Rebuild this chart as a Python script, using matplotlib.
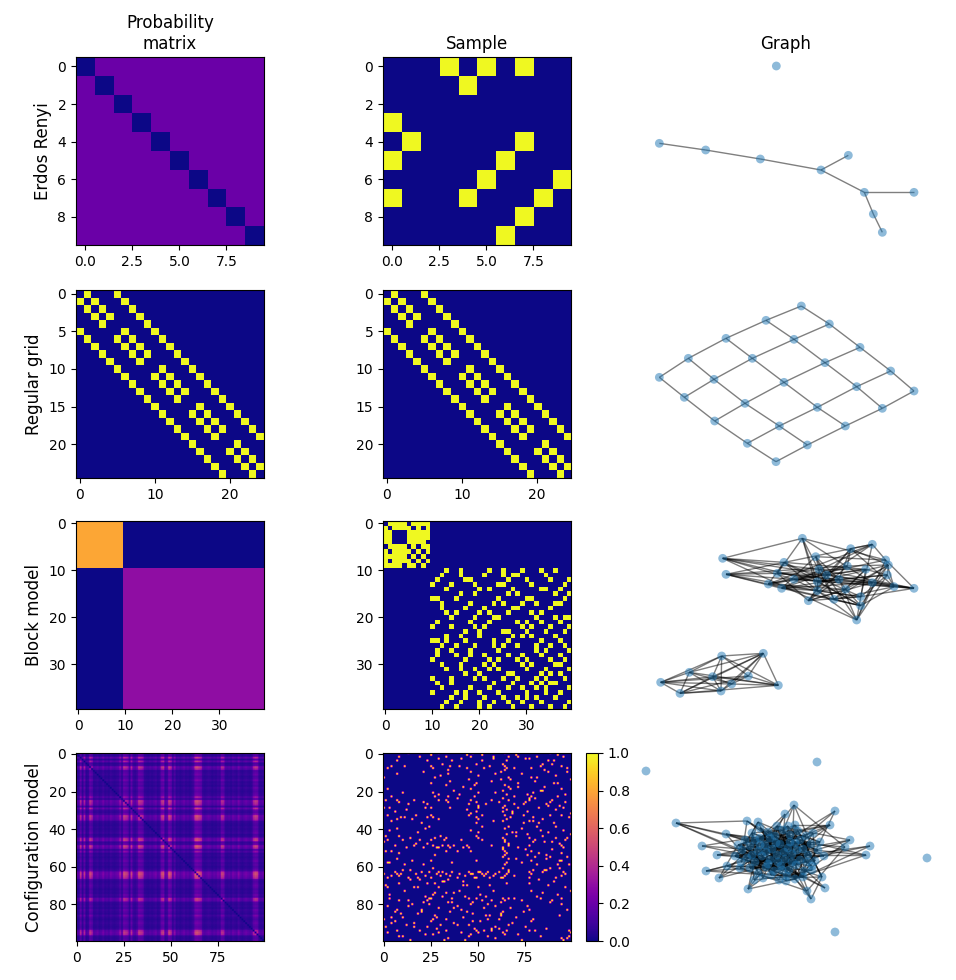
import numpy as np
import matplotlib
matplotlib.use("Agg")
import matplotlib.pyplot as plt
from matplotlib.collections import LineCollection

# ---------------- data ----------------
row_labels = ["Erdos Renyi", "Regular grid", "Block model", "Configuration model"]
col_titles = ["Probability\nmatrix", "Sample", "Graph"]

# Erdos Renyi
er_n = 10
er_p = 0.2
er_edges = [(0, 3), (0, 5), (0, 7), (1, 4), (4, 7), (5, 6), (6, 9), (7, 8)]
er_x = [573, 757, 439, 655, 730, 391, 227, 703, 852, 88]
er_y = [360, 547, 48, 316, 492, 327, 300, 427, 427, 280]

# Regular grid (5x5 lattice)
grid_n = 25
grid_edges = [(0, 1), (1, 2), (2, 3), (3, 4), (5, 6), (6, 7), (7, 8), (8, 9),
              (10, 11), (11, 12), (12, 13), (13, 14), (15, 16), (16, 17), (17, 18), (18, 19),
              (20, 21), (21, 22), (22, 23), (23, 24),
              (0, 5), (1, 6), (2, 7), (3, 8), (4, 9), (5, 10), (6, 11), (7, 12), (8, 13), (9, 14),
              (10, 15), (11, 16), (12, 17), (13, 18), (14, 19), (15, 20), (16, 21), (17, 22),
              (18, 23), (19, 24)]
grid_x = [58, 145, 258, 378, 484,
          133, 222, 337, 462, 568,
          224, 315, 432, 555, 660,
          322, 418, 532, 650, 752,
          408, 502, 616, 727, 822]
grid_y = [262, 205, 145, 91, 48,
          322, 268, 205, 148, 102,
          393, 340, 277, 218, 172,
          460, 408, 352, 290, 243,
          515, 465, 408, 355, 303]

# Block model
block_sizes = [10, 30]
block_p = [[0.8, 0.0], [0.0, 0.3]]
block_small_missing = [(0, 5), (2, 3), (2, 4), (3, 4), (1, 6), (5, 7), (6, 8), (4, 9), (7, 9), (1, 8)]
block_big_adj = {
    10: [13, 16, 22, 25, 29, 33, 36], 11: [12, 16, 21, 25, 27, 28, 34],
    12: [17, 18, 26, 30, 35, 39], 13: [14, 19, 24, 25, 31, 38],
    14: [20, 22, 27, 33, 34, 37], 15: [16, 19, 26, 28, 36, 39],
    16: [24, 30, 31, 38], 17: [18, 23, 25, 29, 32, 36, 37],
    18: [21, 27, 28, 35], 19: [20, 22, 26, 31, 33],
    20: [23, 24, 32, 36, 38, 39], 21: [22, 28, 30, 33, 37], 22: [29, 31, 35, 39],
    23: [25, 26, 30, 34, 38], 24: [27, 29, 31, 36], 25: [26, 33, 37],
    26: [28, 32, 35, 38], 27: [32, 34, 39], 28: [29, 33, 37], 29: [30, 35, 38],
    30: [31, 36, 37], 31: [34, 39], 32: [33, 35, 37], 33: [34, 38], 34: [35, 36],
    35: [39], 36: [37], 38: [39],
}
block_x = [370, 245, 148, 218, 325, 62, 275, 415, 120, 243,
           487, 697, 632, 248, 432, 527, 737, 745, 622, 537,
           677, 258, 412, 742, 462, 532, 597, 385, 425, 697,
           762, 822, 617, 532, 662, 505, 582, 662, 650, 560]
block_y = [400, 408, 457, 470, 468, 487, 492, 496, 520, 513,
           55, 73, 86, 115, 127, 110, 120, 135, 138, 148,
           148, 163, 160, 165, 178, 185, 178, 192, 205, 188,
           200, 205, 208, 212, 230, 242, 238, 257, 300, 165]

# Configuration model
cfg_n = 100
cfg_w = [0.26, 0.21, 0.62, 0.24, 0.58, 0.20, 0.25, 0.66, 0.55, 0.22,
         0.25, 0.30, 0.21, 0.24, 0.34, 0.22, 0.26, 0.20, 0.31, 0.25,
         0.22, 0.26, 0.29, 0.50, 0.25, 0.68, 0.62, 0.55, 0.24, 0.64,
         0.30, 0.25, 0.36, 0.70, 0.64, 0.58, 0.26, 0.22, 0.20, 0.25,
         0.21, 0.26, 0.31, 0.20, 0.25, 0.63, 0.70, 0.26, 0.31, 0.74,
         0.64, 0.25, 0.45, 0.22, 0.26, 0.20, 0.25, 0.31, 0.22, 0.26,
         0.20, 0.25, 0.36, 0.74, 0.78, 0.70, 0.63, 0.26, 0.22, 0.25,
         0.30, 0.26, 0.20, 0.25, 0.22, 0.31, 0.26, 0.62, 0.58, 0.25,
         0.22, 0.26, 0.20, 0.31, 0.26, 0.22, 0.36, 0.25, 0.20, 0.26,
         0.30, 0.25, 0.22, 0.26, 0.58, 0.68, 0.62, 0.25, 0.22, 0.26]
cfg_adj = {
    0: [13, 29, 47, 64, 88], 1: [25, 44, 52, 70], 2: [8, 19, 33, 46, 58, 66, 71, 81, 95],
    3: [29, 41, 58, 77], 4: [7, 23, 36, 52, 65, 87, 90], 6: [31, 49, 63, 84],
    7: [11, 25, 35, 40, 56, 64, 83, 94], 8: [26, 44, 53, 65, 78, 97], 9: [34, 64],
    10: [21, 46, 62, 87], 11: [34, 59, 73], 12: [30, 50, 91], 13: [27, 66, 81],
    14: [45, 62, 99], 15: [35, 57, 80], 16: [25, 49, 71, 92], 17: [33, 48, 64],
    18: [42, 66, 85], 19: [46, 67, 94], 20: [37, 63, 84], 21: [26, 50, 59, 79],
    22: [29, 40, 65, 96], 23: [27, 34, 48, 69, 78, 92], 24: [39, 63, 77],
    25: [29, 33, 46, 57, 66, 77, 89], 26: [34, 49, 61, 75, 88, 96], 27: [45, 54, 69, 86],
    28: [50, 64, 93], 29: [35, 50, 63, 71, 82, 95], 30: [44, 65, 91], 31: [49, 63, 76],
    32: [46, 68, 99], 33: [45, 52, 64, 74, 88], 34: [49, 67, 79, 98], 35: [50, 65, 84],
    36: [58, 63, 79], 37: [49, 74, 90], 39: [52, 66, 81], 40: [64, 73], 41: [46, 83, 95],
    42: [50, 68, 87], 43: [65, 76, 99], 44: [49, 70], 45: [50, 63, 77, 91, 97],
    46: [52, 64, 80, 96], 47: [64, 85, 89], 48: [66, 93], 49: [57, 66, 77, 94],
    50: [63, 71, 95], 51: [63, 75, 89], 52: [64, 78], 53: [65, 82, 94], 54: [64, 76, 86],
    55: [63, 80, 97], 56: [66, 70, 86], 57: [78, 94], 58: [65, 73], 59: [64, 92, 98],
    61: [63, 88, 93], 62: [66, 79, 85], 63: [66, 77, 84, 95], 64: [65, 78, 96],
    65: [69, 94], 66: [77, 91], 67: [82, 14], 68: [90, 31], 69: [77, 8], 70: [87, 42],
    71: [96, 18], 73: [78, 11, 99], 74: [84, 27], 75: [92, 3], 76: [81, 22],
    77: [83, 94, 36], 78: [89, 13], 79: [88, 47], 80: [94, 24], 81: [59], 82: [37],
    83: [97, 20], 84: [44], 85: [9], 86: [93, 62], 87: [28], 88: [55], 89: [6],
    90: [16], 91: [39], 92: [1], 93: [57], 94: [98, 33], 95: [99, 41], 97: [98, 10],
}
cfg_isolated = [5, 38, 60, 72]
cfg_isolated_xy = [(646, 771), (817, 762), (927, 858), (835, 932)]
cfg_outer_ids = [1, 3, 9, 12, 15, 17, 20, 24, 28, 30, 36, 40, 43, 51, 55, 57, 67, 68, 70, 71,
                 73, 75, 85, 89, 93]
cfg_outer_xy = [(676, 823), (794, 805), (835, 811), (785, 814), (702, 846), (870, 846),
                (866, 855), (850, 840), (706, 871), (719, 878), (748, 889), (811, 899),
                (825, 888), (807, 891), (786, 881), (830, 825), (717, 855), (726, 834),
                (747, 821), (758, 822), (822, 877), (845, 847), (754, 880), (740, 868),
                (727, 866)]
cfg_core_xy = [(745, 840), (752, 833), (760, 838), (768, 832), (775, 836), (783, 830), (790, 835),
               (798, 831), (806, 836), (813, 833), (742, 850), (750, 846), (758, 851), (765, 845),
               (772, 849), (780, 844), (788, 848), (795, 843), (803, 849), (811, 844), (818, 850),
               (747, 858), (755, 862), (762, 856), (770, 860), (777, 855), (785, 859), (792, 854),
               (800, 860), (808, 855), (815, 861), (750, 868), (758, 873), (766, 867), (774, 871),
               (781, 866), (789, 870), (796, 865), (804, 871), (812, 866), (763, 878), (771, 875),
               (779, 880), (787, 876), (795, 879), (803, 877), (738, 845), (735, 856), (820, 842),
               (824, 856), (760, 828), (777, 826), (795, 825), (768, 864), (784, 852), (776, 843),
               (792, 862), (760, 845), (800, 840), (812, 870), (741, 862), (752, 855), (790, 842),
               (766, 852), (782, 870), (770, 838), (797, 850), (807, 862), (788, 826), (755, 840),
               (778, 862)]

# ---------------- build matrices ----------------
def adj_from_edges(n, edges):
    A = np.zeros((n, n))
    for i, j in edges:
        A[i, j] = 1
        A[j, i] = 1
    return A

er_P = np.full((er_n, er_n), er_p)
np.fill_diagonal(er_P, 0)
er_A = adj_from_edges(er_n, er_edges)

grid_A = adj_from_edges(grid_n, grid_edges)
grid_P = grid_A.copy()

nb = sum(block_sizes)
bounds = np.cumsum([0] + block_sizes)
block_P = np.zeros((nb, nb))
for a in range(2):
    for b in range(2):
        block_P[bounds[a]:bounds[a + 1], bounds[b]:bounds[b + 1]] = block_p[a][b]
block_edges = [(i, j) for i in range(10) for j in range(i + 1, 10)
               if (i, j) not in block_small_missing]
for i, js in block_big_adj.items():
    block_edges += [(i, j) for j in js]
block_A = adj_from_edges(nb, block_edges)

w = np.array(cfg_w)
cfg_P = np.outer(w, w)
np.fill_diagonal(cfg_P, 0)
cfg_edges = [(i, j) for i, js in cfg_adj.items() for j in js]
cfg_A = adj_from_edges(cfg_n, cfg_edges)

cfg_pos = [None] * cfg_n
for k, xy in zip(cfg_isolated, cfg_isolated_xy):
    cfg_pos[k] = xy
for k, xy in zip(cfg_outer_ids, cfg_outer_xy):
    cfg_pos[k] = xy
rest = [k for k in range(cfg_n) if cfg_pos[k] is None]
for k, xy in zip(rest, cfg_core_xy):
    cfg_pos[k] = xy
cfg_x = [p[0] for p in cfg_pos]
cfg_y = [p[1] for p in cfg_pos]

# ---------------- figure ----------------
W, H = 956, 980
fig = plt.figure(figsize=(W / 100, H / 100), dpi=100)


def px_axes(x0, y0, w_, h_):
    return fig.add_axes([x0 / W, 1 - (y0 + h_) / H, w_ / W, h_ / H])


row_tops = [57, 290, 521, 753]
col_lefts = [76, 383]
size = 188

mats = [(er_P, er_A), (grid_P, grid_A), (block_P, block_A), (cfg_P, cfg_A)]
xt = [[0, 2.5, 5, 7.5], [0, 10, 20], [0, 10, 20, 30], [0, 25, 50, 75]]
yt = [[0, 2, 4, 6, 8], [0, 5, 10, 15, 20], [0, 10, 20, 30], [0, 20, 40, 60, 80]]

last_im = None
for r in range(4):
    for c in range(2):
        ax = px_axes(col_lefts[c], row_tops[r], size, size)
        last_im = ax.imshow(mats[r][c], cmap="plasma", vmin=0, vmax=1,
                            interpolation="antialiased", interpolation_stage="data")
        ax.set_xticks(xt[r])
        ax.set_yticks(yt[r])
        if c == 0:
            ax.set_ylabel(row_labels[r], fontsize=12)
        if r == 0:
            ax.set_title(col_titles[c], fontsize=12)

cax = px_axes(586, 753, 12, 188)
fig.colorbar(last_im, cax=cax)

fig.text(786 / W, 1 - 49 / H, col_titles[2], ha="center", va="baseline", fontsize=12)


def draw_graph(box, xlim, ylim, xs, ys, edges):
    ax = px_axes(*box)
    segs = [[(xs[i], ys[i]), (xs[j], ys[j])] for i, j in edges]
    ax.add_collection(LineCollection(segs, colors="k", alpha=0.5, linewidths=1.0, zorder=1))
    ax.scatter(xs, ys, s=40, c="#1f77b4", alpha=0.5, edgecolors="none", zorder=2)
    ax.set_xlim(*xlim)
    ax.set_ylim(*ylim)
    ax.axis("off")


draw_graph((630, 50, 300, 200), (0, 900), (600, 0), er_x, er_y, er_edges)
draw_graph((640, 290, 290, 185), (0, 870), (555, 0), grid_x, grid_y, grid_edges)
draw_graph((640, 520, 290, 190), (0, 870), (570, 0), block_x, block_y, block_edges)
draw_graph((635, 750, 300, 195), (635, 935), (945, 750), cfg_x, cfg_y, cfg_edges)

fig.savefig("out.png", dpi=100)
